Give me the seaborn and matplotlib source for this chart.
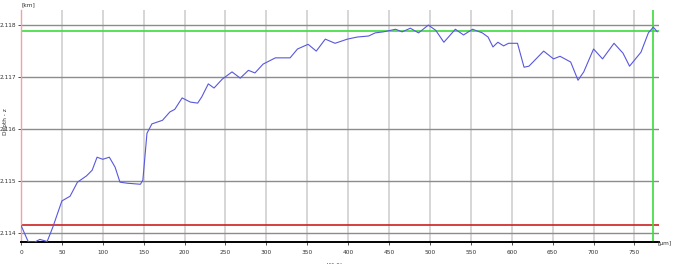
import matplotlib
matplotlib.use("Agg")
import matplotlib.pyplot as plt
from matplotlib import font_manager
import seaborn as sns
import pandas as pd

width_um = [0, 9, 17, 23, 32, 39, 50, 60, 69, 80, 87, 93, 100, 108, 115, 121, 130, 146, 149,
            154, 160, 173, 182, 188, 197, 207, 216, 221, 229, 236, 246, 258, 268, 278, 286,
            296, 311, 329, 338, 351, 361, 372, 384, 399, 411, 425, 433, 443, 458, 466, 476,
            486, 498, 507, 517, 531, 541, 552, 564, 571, 577, 583, 590, 596, 607, 615, 621,
            639, 651, 659, 672, 681, 688, 700, 711, 725, 736, 744, 758, 767, 773, 778]
depth = [2.11415, 2.11383, 2.11383, 2.11388, 2.11384, 2.11412, 2.11462, 2.11471, 2.11498,
         2.11510, 2.11521, 2.11546, 2.11542, 2.11546, 2.11527, 2.11498, 2.11496, 2.11494,
         2.11502, 2.11592, 2.11610, 2.11617, 2.11633, 2.11638, 2.11660, 2.11652, 2.11650,
         2.11662, 2.11687, 2.11679, 2.11696, 2.11710, 2.11698, 2.11713, 2.11708, 2.11725,
         2.11737, 2.11737, 2.11754, 2.11763, 2.11750, 2.11773, 2.11765, 2.11773, 2.11777,
         2.11779, 2.11785, 2.11787, 2.11792, 2.11787, 2.11794, 2.11785, 2.11800, 2.11790,
         2.11767, 2.11792, 2.11781, 2.11792, 2.11785, 2.11777, 2.11758, 2.11767, 2.11760,
         2.11765, 2.11765, 2.11719, 2.11721, 2.11750, 2.11735, 2.11740, 2.11729, 2.11694,
         2.11710, 2.11754, 2.11735, 2.11765, 2.11746, 2.11721, 2.11748, 2.11785, 2.11796,
         2.11787]

x_ticks = [0, 50, 100, 150, 200, 250, 300, 350, 400, 450, 500, 550, 600, 650, 700, 750]
y_ticks = [2.114, 2.115, 2.116, 2.117, 2.118]
y_tick_labels = ["2.114", "2.115", "2.116", "2.117", "2.118"]
green_level = 2.11788
red_level = 2.11416
green_x = 773

sns.set_style("white")
names = {f.name for f in font_manager.fontManager.ttflist}
narrow = "Liberation Sans Narrow" if "Liberation Sans Narrow" in names else "DejaVu Sans"
plt.rcParams["font.family"] = [narrow, "DejaVu Sans"]
fs = 5.2 if narrow != "DejaVu Sans" else 4.2

fig = plt.figure(figsize=(6.73, 2.64), dpi=100)
ax = fig.add_axes([21 / 673, 1 - 242 / 264, (659 - 21) / 673, (242 - 10) / 264])

df = pd.DataFrame({"x": width_um, "z": depth})

for xt in x_ticks:
    ax.axvline(xt, color="#cfcfcf", lw=1.2, zorder=0)
for yt in y_ticks:
    ax.axhline(yt, color="#8c8c8c", lw=1.0, zorder=0)

ax.axhline(green_level, color="#3ddc3d", lw=1.2, zorder=1)
ax.axhline(red_level, color="#cc2020", lw=1.2, zorder=1)
ax.axvline(green_x, color="#3ddc3d", lw=1.2, zorder=1)

sns.lineplot(data=df, x="x", y="z", ax=ax, color="#5858dc", lw=0.8, zorder=3)

ax.set_xlim(0, 780)
ax.set_ylim(2.11383, 2.11829)
ax.set_xticks(x_ticks)
ax.set_xticklabels([str(v) for v in x_ticks])
ax.set_yticks(y_ticks)
ax.set_yticklabels(y_tick_labels)
ax.tick_params(axis="both", labelsize=fs, length=2, width=0.6, pad=1.5,
               colors="#333333", left=True, bottom=True)
ax.tick_params(axis="x", pad=4)
ax.set_xlabel("")
ax.set_ylabel("")

for s in ["top", "right"]:
    ax.spines[s].set_visible(False)
ax.spines["left"].set_color("#f0a0a8")
ax.spines["left"].set_linewidth(1.0)
ax.spines["bottom"].set_color("#000000")
ax.spines["bottom"].set_linewidth(1.4)

fig.text(22 / 673, 1 - 5 / 264, "[km]", fontsize=fs, color="#333333", va="center", ha="left")
fig.text(672 / 673, 1 - 243 / 264, "[μm]", fontsize=fs, color="#333333", va="center", ha="right")
fig.text(3 / 673, 1 - 122 / 264, "Depth - z", fontsize=fs, color="#333333",
         rotation=90, va="center", ha="left")
fig.text(340 / 673, -0.004, "Width - x", fontsize=fs, color="#333333", va="center", ha="center")

fig.savefig("out.png", dpi=100)
